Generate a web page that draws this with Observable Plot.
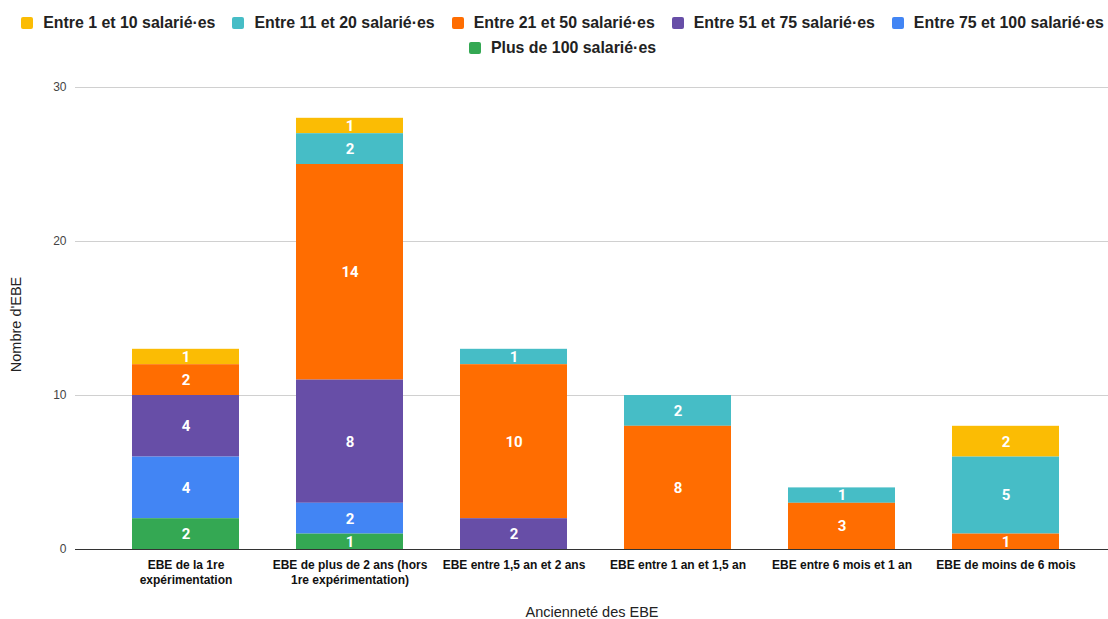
<!DOCTYPE html>
<html>
<head>
<meta charset="utf-8">
<script src="https://cdn.jsdelivr.net/npm/d3@7"></script>
<script src="https://cdn.jsdelivr.net/npm/@observablehq/plot@0.6"></script>
<style>
  html, body { margin: 0; padding: 0; background: #fff; }
  #wrap { width: 1108px; }
  #legend { height: 60px; box-sizing: border-box; padding-top: 14px; padding-left: 17px; display: flex; flex-wrap: wrap; justify-content: center; row-gap: 5px; column-gap: 17px; font-family: "Liberation Sans", Arial, sans-serif; font-size: 15.9px; font-weight: bold; color: #222; }
  .item { display: flex; align-items: center; height: 17px; white-space: nowrap; }
  .sw { width: 12px; height: 12px; border-radius: 2px; margin-right: 10px; }
  svg { display: block; }
</style>
</head>
<body>
<div id="wrap">
  <div id="legend"></div>
  <div id="chart"></div>
</div>
<script>
const categories = [
  "EBE de la 1re expérimentation",
  "EBE de plus de 2 ans (hors 1re expérimentation)",
  "EBE entre 1,5 an et 2 ans",
  "EBE entre 1 an et 1,5 an",
  "EBE entre 6 mois et 1 an",
  "EBE de moins de 6 mois"
];
const tickLabels = [
  "EBE de la 1re\nexpérimentation",
  "EBE de plus de 2 ans (hors\n1re expérimentation)",
  "EBE entre 1,5 an et 2 ans",
  "EBE entre 1 an et 1,5 an",
  "EBE entre 6 mois et 1 an",
  "EBE de moins de 6 mois"
];
const seriesNames = [
  "Entre 1 et 10 salarié·es",
  "Entre 11 et 20 salarié·es",
  "Entre 21 et 50 salarié·es",
  "Entre 51 et 75 salarié·es",
  "Entre 75 et 100 salarié·es",
  "Plus de 100 salarié·es"
];
const seriesColors = ["#fbbc04", "#46bdc6", "#ff6d01", "#674ea7", "#4285f4", "#34a853"];
const s1to10    = [1, 1, 0, 0, 0, 2];
const s11to20   = [0, 2, 1, 2, 1, 5];
const s21to50   = [2, 14, 10, 8, 3, 1];
const s51to75   = [4, 8, 2, 0, 0, 0];
const s75to100  = [4, 2, 0, 0, 0, 0];
const sOver100  = [2, 1, 0, 0, 0, 0];
const yTicks = [0, 10, 20, 30];
const xTitle = "Ancienneté des EBE";
const yTitle = "Nombre d'EBE";

const seriesValues = [s1to10, s11to20, s21to50, s51to75, s75to100, sOver100];
const data = [];
seriesNames.forEach((s, i) => {
  categories.forEach((c, j) => {
    const v = seriesValues[i][j];
    if (v > 0) data.push({ category: c, series: s, value: v });
  });
});
const labelOf = new Map(categories.map((c, i) => [c, tickLabels[i]]));
const stackOrder = seriesNames.slice().reverse();

// Legend
const legend = document.getElementById("legend");
seriesNames.forEach((s, i) => {
  const it = document.createElement("div");
  it.className = "item";
  const sw = document.createElement("div");
  sw.className = "sw";
  sw.style.background = seriesColors[i];
  const tx = document.createElement("span");
  tx.textContent = s;
  it.appendChild(sw); it.appendChild(tx);
  legend.appendChild(it);
});

const chart = Plot.plot({
  width: 1108,
  height: 559,
  marginTop: 27,
  marginBottom: 70,
  marginLeft: 75,
  marginRight: 0,
  style: { fontFamily: "'Liberation Sans', Arial, sans-serif", background: "#fff" },
  x: { domain: categories, paddingInner: 0.35, paddingOuter: 0.313, align: 0.54, axis: null },
  y: { domain: [0, 30], axis: null },
  color: { domain: seriesNames, range: seriesColors },
  marks: [
    Plot.gridY(yTicks.filter(d => d > 0), { stroke: "#d0d0d0", strokeOpacity: 1 }),
    Plot.axisY(yTicks, { tickSize: 0, tickPadding: 9, fontSize: 12, fill: "#444", label: null }),
    Plot.barY(data, Plot.stackY({ x: "category", y: "value", fill: "series", order: stackOrder })),
    Plot.text(data, Plot.stackY({ x: "category", y: "value", z: "series", order: stackOrder, text: "value", fill: "white", fontWeight: "bold", fontSize: 15, fontFamily: "Roboto, sans-serif" })),
    Plot.ruleY([0], { stroke: "#333", strokeWidth: 1 }),
    Plot.axisX({ tickSize: 0, tickPadding: 9, fontSize: 12, fontWeight: "bold", fill: "#111", lineHeight: 1.25, tickFormat: d => labelOf.get(d), label: null }),
    Plot.text([xTitle], { frameAnchor: "bottom", dy: 67, text: d => d, fontSize: 14.5, fill: "#222" }),
    Plot.text([yTitle], { frameAnchor: "left", dx: -59, rotate: -90, textAnchor: "middle", dy: 6, text: d => d, fontSize: 14.5, fill: "#222" })
  ]
});
document.getElementById("chart").appendChild(chart);
</script>
</body>
</html>
